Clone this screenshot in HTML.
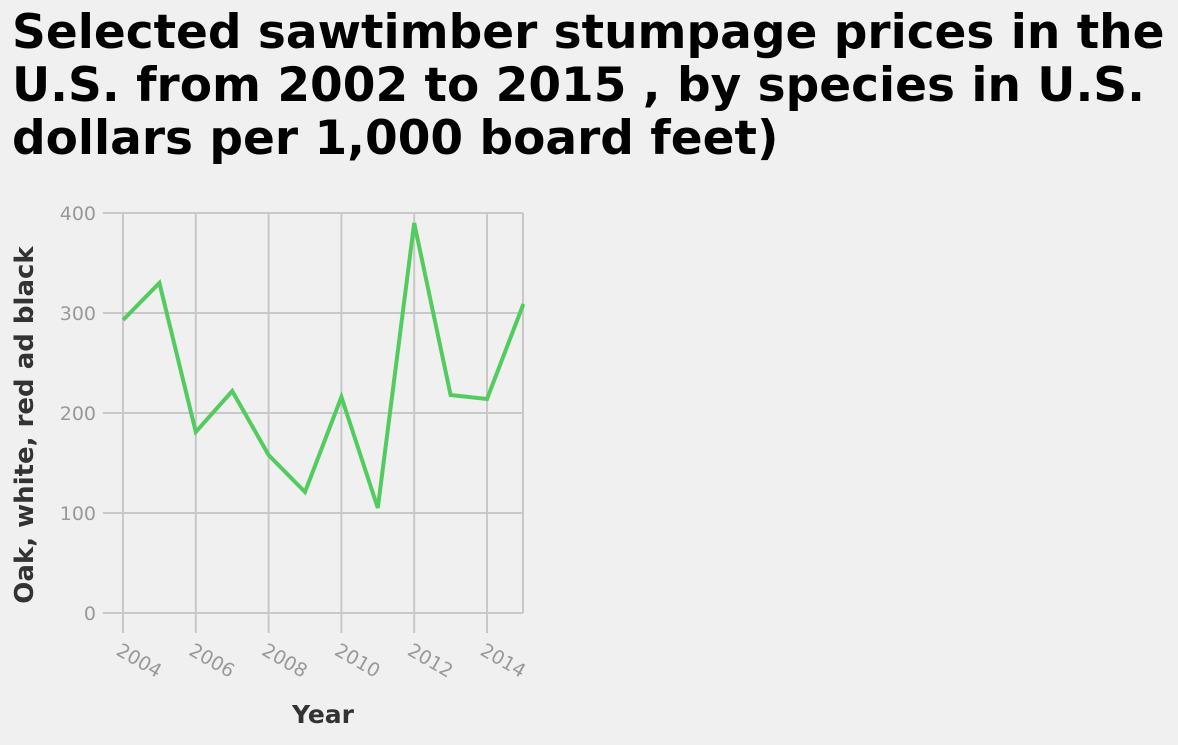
<!DOCTYPE html>
<html><head><meta charset="utf-8"><style>
body{margin:0;background:#f0f0f0;width:1178px;height:740px;overflow:hidden;font-family:"Liberation Sans","DejaVu Sans",sans-serif}
</style></head><body>
<svg width="1178" height="740" xmlns="http://www.w3.org/2000/svg">
<g font-family="'DejaVu Sans','Liberation Sans',sans-serif" font-weight="bold" font-size="47" fill="#000">
<text x="12" y="48">Selected sawtimber stumpage prices in the</text>
<text x="12" y="101">U.S. from 2002 to 2015 , by species in U.S.</text>
<text x="12" y="154">dollars per 1,000 board feet)</text>
</g>
<g id="grid"></g>
<g id="ticks"></g>
<polyline id="line" fill="none" stroke="#52cc5e" stroke-width="4" stroke-linejoin="miter"/>
<text x="323" y="723" text-anchor="middle" font-family="'DejaVu Sans',sans-serif" font-weight="bold" font-size="25" fill="#333">Year</text>
<text transform="translate(33,425) rotate(-90)" text-anchor="middle" font-family="'DejaVu Sans',sans-serif" font-weight="bold" font-size="26" fill="#333">Oak, white, red ad black</text>
</svg>
<script>
const years=[2004,2005,2006,2007,2008,2009,2010,2011,2012,2013,2014,2015];
const prices=[293,330,181,222,158,121,216,105,390,218,214,309];
const yTicks=[0,100,200,300,400];
const xTicks=[2004,2006,2008,2010,2012,2014];
const NS="http://www.w3.org/2000/svg";
const x=v=>123+(v-2004)*36.4;
const y=v=>613-v;
const grid=document.getElementById('grid'),tk=document.getElementById('ticks');
function mk(tag,attrs,parent){const e=document.createElementNS(NS,tag);for(const k in attrs)e.setAttribute(k,attrs[k]);parent.appendChild(e);return e;}
yTicks.forEach(t=>{
 const l=mk('line',{x1:103,x2:523,y1:y(t),y2:y(t),stroke:'#c8c8c8','stroke-width':2},grid);
 
 
 const tx=mk('text',{x:96,y:y(t)+7,'text-anchor':'end','font-size':19,fill:'#999','font-family':"'DejaVu Sans',sans-serif"},tk);
 tx.textContent=t;
 
 
});
xTicks.forEach(t=>{
 const l=mk('line',{x1:x(t),x2:x(t),y1:213,y2:633,stroke:'#c8c8c8','stroke-width':2},grid);
 
 
 const tx=mk('text',{transform:`translate(${x(t)-8},${654}) rotate(30)`,'font-size':19,fill:'#999','font-family':"'DejaVu Sans',sans-serif"},tk);
 tx.textContent=t;
 
 
});
const r=mk('line',{x1:523,x2:523,y1:213,y2:613,stroke:'#c8c8c8','stroke-width':2},grid);


document.getElementById('line').setAttribute('points',years.map((yr,i)=>x(yr)+','+y(prices[i])).join(' '));
</script>
</body></html>
